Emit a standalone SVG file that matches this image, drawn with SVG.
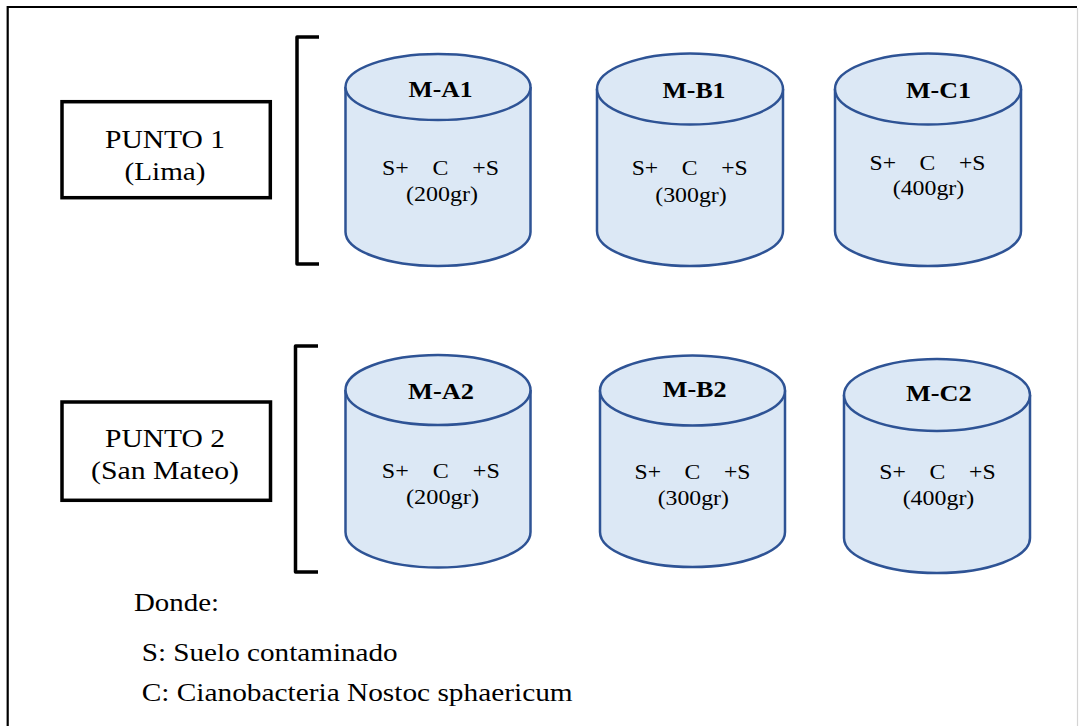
<svg xmlns="http://www.w3.org/2000/svg" width="1079" height="726" viewBox="0 0 1079 726">
<style>
.cyl{fill:#dce8f5;stroke:#2e5395;stroke-width:2.5}
.brk{fill:none;stroke:#000;stroke-width:3.5;stroke-linejoin:round;stroke-linecap:butt}
.box{fill:#fff;stroke:#000;stroke-width:3.5}
.t{font-family:"Liberation Serif","Times New Roman",Tinos,serif;fill:#000}
.lbl{font-size:23px;font-weight:bold;text-anchor:middle}
.mix{font-size:22px;text-anchor:middle;white-space:pre}
.pt{font-size:25px;text-anchor:middle}
.leg{font-size:25px}
</style>
<rect x="0" y="0" width="1079" height="726" fill="#fff"/>
<g id="frame">
<line x1="7.5" y1="7" x2="1077" y2="7" stroke="#000" stroke-width="2.2"/>
<line x1="7.7" y1="6" x2="7.7" y2="726" stroke="#000" stroke-width="2.2"/>
<line x1="1077.5" y1="8" x2="1077.5" y2="726" stroke="#d4d4d4" stroke-width="1.2"/>
</g>
<g id="punto1">
<rect class="box" x="62" y="101.7" width="208.3" height="96"/>
<text class="t pt" x="165" y="148" textLength="120" lengthAdjust="spacingAndGlyphs">PUNTO 1</text>
<text class="t pt" x="165" y="180" textLength="81" lengthAdjust="spacingAndGlyphs">(Lima)</text>
</g>
<g id="punto2">
<rect class="box" x="62" y="402" width="208.5" height="98.3"/>
<text class="t pt" x="165" y="447" textLength="120" lengthAdjust="spacingAndGlyphs">PUNTO 2</text>
<text class="t pt" x="165" y="479" textLength="148" lengthAdjust="spacingAndGlyphs">(San Mateo)</text>
</g>
<g id="bracket1"><path class="brk" d="M319,37 H297 V264 H319"/></g>
<g id="bracket2"><path class="brk" d="M318,346 H295.5 V572 H318"/></g>
<g id="MA1">
<path class="cyl" d="M345.5,87 V232 A92.5,34 0 0 0 530.5,232 V87"/>
<ellipse class="cyl" cx="438" cy="87" rx="92.5" ry="33"/>
<text class="t lbl" x="440.5" y="97" textLength="64" lengthAdjust="spacingAndGlyphs">M-A1</text>
<text class="t mix" x="440.5" y="175" textLength="117" lengthAdjust="spacingAndGlyphs" xml:space="preserve">S+    C    +S</text>
<text class="t mix" x="442" y="201" textLength="72" lengthAdjust="spacingAndGlyphs">(200gr)</text>
</g>
<g id="MB1">
<path class="cyl" d="M597,89 V231 A93,35 0 0 0 783,231 V89"/>
<ellipse class="cyl" cx="690" cy="89" rx="93" ry="35.5"/>
<text class="t lbl" x="694" y="98" textLength="63" lengthAdjust="spacingAndGlyphs">M-B1</text>
<text class="t mix" x="689.7" y="175" textLength="116" lengthAdjust="spacingAndGlyphs" xml:space="preserve">S+    C    +S</text>
<text class="t mix" x="691" y="202" textLength="71.5" lengthAdjust="spacingAndGlyphs">(300gr)</text>
</g>
<g id="MC1">
<path class="cyl" d="M835,89 V231 A93,35 0 0 0 1021,231 V89"/>
<ellipse class="cyl" cx="928" cy="89" rx="93" ry="35.5"/>
<text class="t lbl" x="938.5" y="98" textLength="65" lengthAdjust="spacingAndGlyphs">M-C1</text>
<text class="t mix" x="927.5" y="169.5" textLength="116" lengthAdjust="spacingAndGlyphs" xml:space="preserve">S+    C    +S</text>
<text class="t mix" x="928.5" y="195" textLength="71.5" lengthAdjust="spacingAndGlyphs">(400gr)</text>
</g>
<g id="MA2">
<path class="cyl" d="M345.5,390 V532 A92.5,35.5 0 0 0 530.5,532 V390"/>
<ellipse class="cyl" cx="438" cy="390" rx="92.5" ry="35"/>
<text class="t lbl" x="441" y="398.5" textLength="66" lengthAdjust="spacingAndGlyphs">M-A2</text>
<text class="t mix" x="440.8" y="477.5" textLength="118" lengthAdjust="spacingAndGlyphs" xml:space="preserve">S+    C    +S</text>
<text class="t mix" x="442.5" y="503.5" textLength="73" lengthAdjust="spacingAndGlyphs">(200gr)</text>
</g>
<g id="MB2">
<path class="cyl" d="M600,390.5 V532 A92.5,35 0 0 0 785,532 V390.5"/>
<ellipse class="cyl" cx="692.5" cy="390.5" rx="92.5" ry="35"/>
<text class="t lbl" x="694.7" y="396.5" textLength="64" lengthAdjust="spacingAndGlyphs">M-B2</text>
<text class="t mix" x="692.5" y="478.5" textLength="116" lengthAdjust="spacingAndGlyphs" xml:space="preserve">S+    C    +S</text>
<text class="t mix" x="693.3" y="505" textLength="71.3" lengthAdjust="spacingAndGlyphs">(300gr)</text>
</g>
<g id="MC2">
<path class="cyl" d="M844,395 V538 A93,35 0 0 0 1030,538 V395"/>
<ellipse class="cyl" cx="937" cy="395" rx="93" ry="36"/>
<text class="t lbl" x="938.8" y="401" textLength="65.7" lengthAdjust="spacingAndGlyphs">M-C2</text>
<text class="t mix" x="937.5" y="478.5" textLength="116.3" lengthAdjust="spacingAndGlyphs" xml:space="preserve">S+    C    +S</text>
<text class="t mix" x="938.5" y="505" textLength="71.7" lengthAdjust="spacingAndGlyphs">(400gr)</text>
</g>
<g id="legend">
<text class="t leg" x="134" y="611" textLength="85" lengthAdjust="spacingAndGlyphs">Donde:</text>
<text class="t leg" x="141.7" y="661" textLength="256" lengthAdjust="spacingAndGlyphs">S: Suelo contaminado</text>
<text class="t leg" x="141.7" y="701" textLength="431" lengthAdjust="spacingAndGlyphs">C: Cianobacteria Nostoc sphaericum</text>
</g>
<g id="connectors"></g>
</svg>
